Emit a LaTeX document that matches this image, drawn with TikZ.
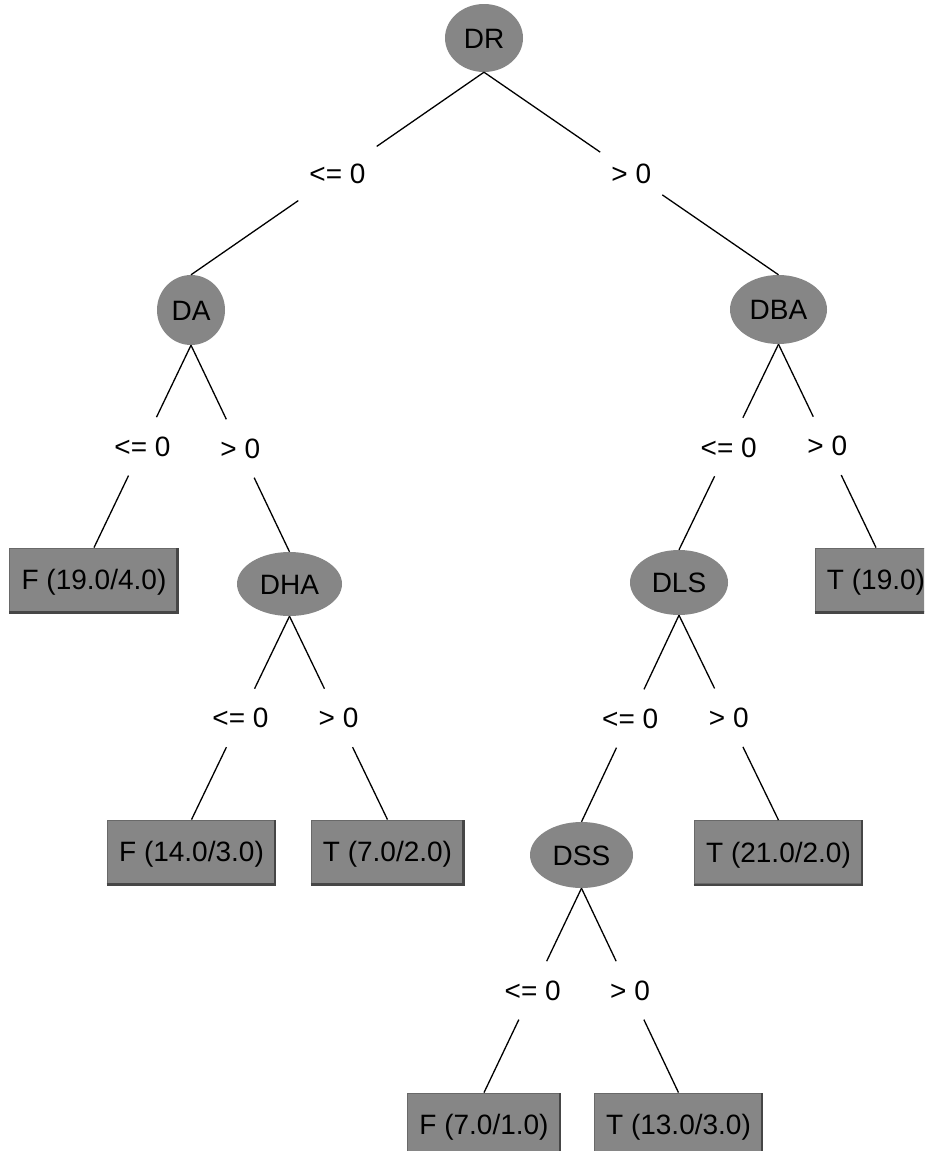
\documentclass[tikz,border=0pt]{standalone}
\usepackage{fontspec}
\setmainfont{Liberation Sans}
\usetikzlibrary{shapes.geometric}
\definecolor{nodegray}{RGB}{134,134,134}
\definecolor{shadowgray}{RGB}{70,70,70}
\definecolor{rimgray}{RGB}{105,105,105}
\begin{document}
\begin{tikzpicture}[x=1pt,y=-1pt,
  every node/.style={font=\fontsize{28}{32}\selectfont, text height=20pt, text depth=0pt},
  inner/.style={ellipse, fill=nodegray, inner sep=0pt},
  leaf/.style={rectangle, fill=nodegray, draw=rimgray, line width=0.8pt, inner xsep=12pt, inner ysep=0pt, minimum height=63pt},
  lbl/.style={rectangle, inner xsep=11pt, inner ysep=0pt, minimum height=58pt},
  edge/.style={draw=black, line width=1.3pt}]
\clip (0,0) rectangle (924,1151);
\fill[white] (0,0) rectangle (924,1151);
% inner nodes
\node[inner, minimum width=78pt, minimum height=68pt] (DR) at (484,38) {DR};
\node[inner, minimum width=68pt, minimum height=70pt] (DA) at (191,310) {DA};
\node[inner, minimum width=97pt, minimum height=69pt] (DBA) at (778.5,309.5) {DBA};
\node[inner, minimum width=105pt, minimum height=64pt] (DHA) at (289.5,584) {DHA};
\node[inner, minimum width=98pt, minimum height=65pt] (DLS) at (679,582.5) {DLS};
\node[inner, minimum width=103pt, minimum height=66pt] (DSS) at (581.5,855) {DSS};
% leaves
\node[leaf] (L1) at (94,579.5) {F (19.0/4.0)};
\node[leaf] (L2) at (876,579.5) {T (19.0)};
\node[leaf] (L3) at (191.5,851.5) {F (14.0/3.0)};
\node[leaf] (L4) at (387.5,851.5) {T (7.0/2.0)};
\node[leaf] (L5) at (778.5,852) {T (21.0/2.0)};
\node[leaf] (L6) at (484,1124.5) {F (7.0/1.0)};
\node[leaf] (L7) at (678.5,1124.5) {T (13.0/3.0)};
% leaf bevel shadows
\foreach \n in {L1,L2,L3,L4,L5,L6,L7}{
  \draw[shadowgray, line width=2.5pt] ([yshift=-1.2pt]\n.south west) -- ([xshift=-1.2pt,yshift=-1.2pt]\n.south east) -- ([xshift=-1.2pt]\n.north east);
}
% labels and edges
\path (DR.south) -- node[lbl] (e1) {<= 0} (DA.north);
\path (DR.south) -- node[lbl] (e2) {> 0} (DBA.north);
\path (DA.south) -- node[lbl] (e3) {<= 0} (L1.north);
\path (DA.south) -- node[lbl] (e4) {> 0} (DHA.north);
\path (DBA.south) -- node[lbl] (e5) {<= 0} (DLS.north);
\path (DBA.south) -- node[lbl] (e6) {> 0} (L2.north);
\path (DHA.south) -- node[lbl] (e7) {<= 0} (L3.north);
\path (DHA.south) -- node[lbl] (e8) {> 0} (L4.north);
\path (DLS.south) -- node[lbl] (e9) {<= 0} (DSS.north);
\path (DLS.south) -- node[lbl] (e10) {> 0} (L5.north);
\path (DSS.south) -- node[lbl] (e11) {<= 0} (L6.north);
\path (DSS.south) -- node[lbl] (e12) {> 0} (L7.north);
\draw[edge] (DR.south) -- (e1) -- (DA.north);
\draw[edge] (DR.south) -- (e2) -- (DBA.north);
\draw[edge] (DA.south) -- (e3) -- (L1.north);
\draw[edge] (DA.south) -- (e4) -- (DHA.north);
\draw[edge] (DBA.south) -- (e5) -- (DLS.north);
\draw[edge] (DBA.south) -- (e6) -- (L2.north);
\draw[edge] (DHA.south) -- (e7) -- (L3.north);
\draw[edge] (DHA.south) -- (e8) -- (L4.north);
\draw[edge] (DLS.south) -- (e9) -- (DSS.north);
\draw[edge] (DLS.south) -- (e10) -- (L5.north);
\draw[edge] (DSS.south) -- (e11) -- (L6.north);
\draw[edge] (DSS.south) -- (e12) -- (L7.north);
\end{tikzpicture}
\end{document}
